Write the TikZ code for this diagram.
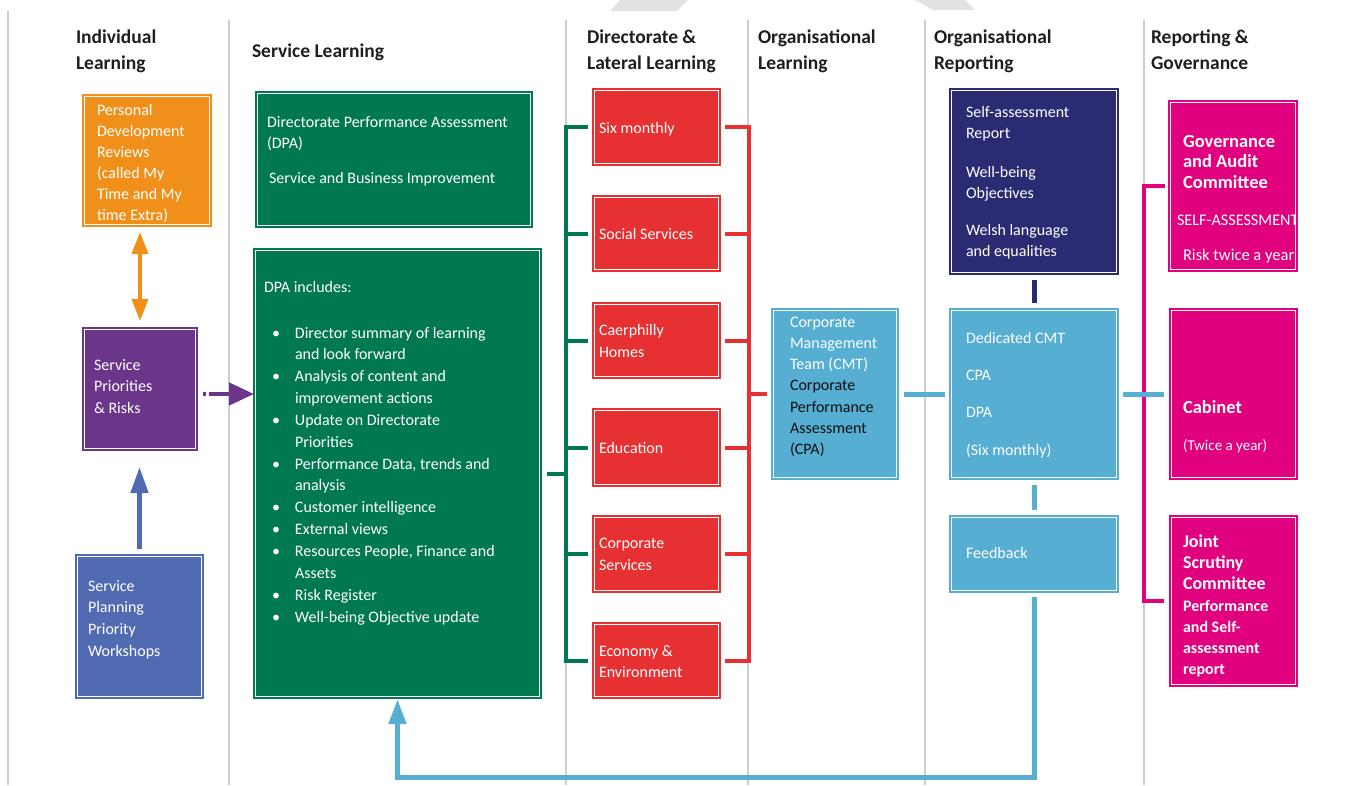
\documentclass[tikz,border=0pt]{standalone}
\usepackage{fontspec}
\setmainfont{Carlito}
\usetikzlibrary{arrows.meta,calc}
\definecolor{cOr}{RGB}{240,144,26}
\definecolor{cPu}{RGB}{107,53,138}
\definecolor{cSb}{RGB}{80,107,177}
\definecolor{cGr}{RGB}{0,120,80}
\definecolor{cRd}{RGB}{230,48,50}
\definecolor{cLb}{RGB}{86,174,211}
\definecolor{cNv}{RGB}{42,43,115}
\definecolor{cMg}{RGB}{225,0,125}
\definecolor{cSep}{RGB}{205,205,205}
\definecolor{cHd}{RGB}{30,30,30}
\definecolor{cWm}{RGB}{226,226,226}
\definecolor{cTx}{RGB}{15,15,15}
\newcommand\fs[2]{\fontsize{#1}{#2}\selectfont}
% name, colour, x1, y1, x2, y2 (outer edge, px)
\newcommand\bxs[6]{\node[boxs,draw=#2,fill=#2,minimum width={#5-#3-5.6},minimum height={#6-#4-5.6}] (#1) at (#3+2.8,#4+2.8) {};}
\newcommand\tbox[1]{\parbox[t]{330pt}{#1}}
\newcommand\bl{\makebox[23pt][l]{\textbullet}}
\begin{document}
\begin{tikzpicture}[x=1pt,y=-1pt,
  boxs/.style={anchor=north west,inner sep=0pt,outer sep=0pt,line width=2.2pt,double=white,double distance=1.2pt},
  tx/.style={anchor=base west,inner sep=0pt,outer sep=0pt,text=white},
  hd/.style={anchor=base west,inner sep=0pt,outer sep=0pt,text=cHd,font=\bfseries},
  sepl/.style={draw=cSep,line width=1.3pt},
  conn/.style={line width=4pt},
  lb/.style={conn,draw=cLb,line width=5pt},
]
\useasboundingbox (0,0) rectangle (1347,785);
% background separators
\draw[sepl] (8,11) -- (8,785);
\foreach \xx in {229,566,748,925,1144} {\draw[sepl] (\xx,20) -- (\xx,785);}
% watermark fragments
\fill[cWm] (610,11) -- (677,11) -- (688,0) -- (620,0) -- cycle;
\fill[cWm] (915,0) -- (965,0) -- (975,10) -- (933,10) -- cycle;

% headers
\node[hd] (h1) at (76,43) {\tbox{\fs{19.5}{26}\bfseries Individual\\Learning}};
\node[hd] (h2) at (252,57) {\tbox{\fs{19.5}{26}\bfseries Service Learning}};
\node[hd] (h3) at (587,43) {\tbox{\fs{19.5}{26}\bfseries Directorate \&\\Lateral Learning}};
\node[hd] (h4) at (758,43) {\tbox{\fs{19.5}{26}\bfseries Organisational\\Learning}};
\node[hd] (h5) at (934,43) {\tbox{\fs{19.5}{26}\bfseries Organisational\\Reporting}};
\node[hd] (h6) at (1151,43) {\tbox{\fs{19.5}{26}\bfseries Reporting \&\\Governance}};

% boxes
\bxs{orange}{cOr}{82}{94}{212}{227}
\bxs{purple}{cPu}{82}{327}{198}{451}
\bxs{splan}{cSb}{75}{554}{204}{699}
\bxs{gtop}{cGr}{255}{91}{533}{228}
\bxs{dpa}{cGr}{253}{248}{542}{699}
\bxs{r1}{cRd}{592}{88}{721}{166}
\bxs{r2}{cRd}{592}{195}{721}{272}
\bxs{r3}{cRd}{592}{302}{721}{379}
\bxs{r4}{cRd}{592}{408}{721}{487}
\bxs{r5}{cRd}{592}{515}{721}{593}
\bxs{r6}{cRd}{592}{622}{721}{699}
\bxs{cmt}{cLb}{771}{308}{899}{480}
\bxs{navy}{cNv}{949}{88}{1119}{275}
\bxs{ded}{cLb}{949}{308}{1119}{480}
\bxs{fb}{cLb}{949}{515}{1119}{593}
\bxs{gov}{cMg}{1168}{100}{1298}{272}
\bxs{cab}{cMg}{1169}{308}{1298}{480}
\bxs{joint}{cMg}{1169}{515}{1298}{687}

% coordinates for brackets
\coordinate (gv) at (566,0);
\coordinate (rv) at (748.5,0);
\coordinate (mv) at (1143.5,0);
\coordinate (bot) at (0,777);
\coordinate (pa) at (203,394);

% left arrows
\draw[cOr,line width=4pt,{Triangle[length=22pt,width=16pt]}-{Triangle[length=22pt,width=16pt]},shorten <=7.8pt,shorten >=8.8pt]
  (orange.south -| purple.north) -- (purple.north);
\draw[cSb,line width=4.5pt,-{Triangle[length=26pt,width=17pt]},shorten <=7.8pt,shorten >=18.8pt]
  (splan.north) -- (splan.north |- purple.south);
\draw[cPu,line width=4.5pt,dash pattern=on 3pt off 3pt on 60pt,-{Triangle[length=25pt,width=22pt]},shorten >=1.8pt]
  (pa) -- (pa -| dpa.west);

% green bracket
\draw[conn,cGr,line cap=rect] (gv |- r1.west) -- (gv |- r6.west);
\foreach \r in {r1,r2,r3,r4,r5,r6} {\draw[conn,cGr,shorten >=6.8pt] (gv |- \r.west) -- (\r.west);}
\draw[conn,cGr,shorten <=7.8pt] (dpa.east) -- (dpa.east -| gv);

% red bracket
\draw[conn,cRd,line cap=rect] (rv |- r1.east) -- (rv |- r6.east);
\foreach \r in {r1,r2,r3,r4,r5,r6} {\draw[conn,cRd,shorten <=6.8pt] (\r.east) -- (rv |- \r.east);}
\draw[conn,cRd,shorten >=6.8pt] (rv |- cmt.west) -- (cmt.west);

% magenta bracket
\draw[conn,cMg,line join=miter,shorten <=5.8pt,shorten >=7.8pt] (gov.west) -- (gov.west -| mv) -- (joint.west -| mv) -- (joint.west);

% light blue connectors
\draw[lb,shorten <=7.8pt,shorten >=6.8pt] (cmt.east) -- (ded.west);
\draw[lb,shorten <=6.8pt,shorten >=7.8pt] (ded.east) -- (cab.west);
\draw[lb,shorten <=7.8pt,shorten >=7.8pt] (ded.south) -- (fb.north);
\draw[conn,cNv,line width=5pt,shorten <=7.8pt,shorten >=7.8pt] (navy.south) -- (ded.north);
\draw[lb,line join=miter,-{Triangle[length=25pt,width=17pt]},shorten <=6.8pt,shorten >=3pt]
  (fb.south) -- (fb.south |- bot) -| (dpa.south);

% texts
\node[tx] (t-or) at (97,115) {\tbox{\fs{16}{21}Personal\\Development\\Reviews\\(called My\\Time and My\\time Extra)}};
\node[tx] (t-pu) at (94,370) {\tbox{\fs{16}{21.5}Service\\Priorities\\\& Risks}};
\node[tx] (t-sp) at (88,591) {\tbox{\fs{16}{21.7}Service\\Planning\\Priority\\Workshops}};
\node[tx] (t-g1) at (267,127) {\tbox{\fs{16}{21}Directorate Performance Assessment\\(DPA)}};
\node[tx] (t-g2) at (269,183) {\tbox{\fs{16}{21}Service and Business Improvement}};
\node[tx] (t-d0) at (264,292) {\tbox{\fs{16}{21}DPA includes:}};
\node[tx] (t-dl) at (272,338) {\tbox{\fs{16}{21.85}%
\bl Director summary of learning\\\hspace*{23pt}and look forward\\
\bl Analysis of content and\\\hspace*{23pt}improvement actions\\
\bl Update on Directorate\\\hspace*{23pt}Priorities\\
\bl Performance Data, trends and\\\hspace*{23pt}analysis\\
\bl Customer intelligence\\
\bl External views\\
\bl Resources People, Finance and\\\hspace*{23pt}Assets\\
\bl Risk Register\\
\bl Well-being Objective update}};
\node[tx] (t-r1) at (599,133) {\tbox{\fs{16}{22}Six monthly}};
\node[tx] (t-r2) at (599,239) {\tbox{\fs{16}{22}Social Services}};
\node[tx] (t-r3) at (599,335) {\tbox{\fs{16}{22}Caerphilly\\Homes}};
\node[tx] (t-r4) at (599,453) {\tbox{\fs{16}{22}Education}};
\node[tx] (t-r5) at (599,548) {\tbox{\fs{16}{22.5}Corporate\\Services}};
\node[tx] (t-r6) at (599,656) {\tbox{\fs{16}{21.5}Economy \&\\Environment}};
\node[tx] (t-cmt) at (790,327) {\tbox{\fs{16}{21.3}Corporate\\Management\\Team (CMT)\\\color{cTx}Corporate\\Performance\\Assessment\\(CPA)}};
\node[tx] (t-n1) at (966,117) {\tbox{\fs{16}{21.5}Self-assessment\\Report}};
\node[tx] (t-n2) at (966,177) {\tbox{\fs{16}{21.5}Well-being\\Objectives}};
\node[tx] (t-n3) at (966,235) {\tbox{\fs{16}{21.5}Welsh language\\and equalities}};
\node[tx] (t-ded) at (966,343) {\tbox{\fs{16}{37.4}Dedicated CMT\\CPA\\DPA\\(Six monthly)}};
\node[tx] (t-fb) at (966,558) {\tbox{\fs{16}{21}Feedback}};
\begin{scope}
\clip (1168,100) rectangle (1295,272);
\node[tx] (t-gv1) at (1183,147) {\tbox{\fs{18.5}{20.5}\bfseries Governance\\and Audit\\Committee}};
\node[tx] (t-gv2) at (1177,225) {\tbox{\fs{16.2}{21}SELF-ASSESSMENT}};
\node[tx] (t-gv3) at (1183,260) {\tbox{\fs{16.5}{21}Risk twice a year}};
\end{scope}
\node[tx] (t-cb1) at (1183,413) {\tbox{\fs{18.5}{21}\bfseries Cabinet}};
\node[tx] (t-cb2) at (1183,450) {\tbox{\fs{15}{21}(Twice a year)}};
\node[tx] (t-j1) at (1183,547) {\tbox{\fs{18}{21.3}\bfseries Joint\\Scrutiny\\Committee}};
\node[tx] (t-j2) at (1183,611) {\tbox{\fs{16}{21.3}\bfseries Performance\\and Self-\\assessment\\report}};
\end{tikzpicture}
\end{document}
